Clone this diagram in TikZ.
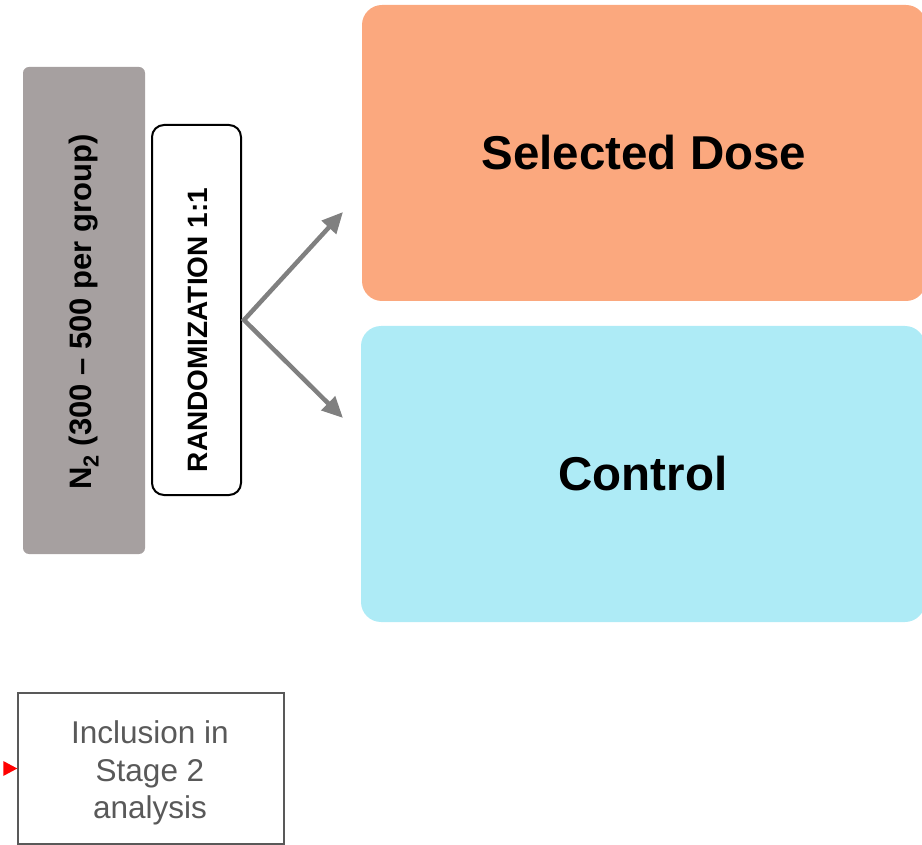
\documentclass[tikz,border=0pt]{standalone}
\usepackage{fontspec}
\setmainfont{Liberation Sans}
\usetikzlibrary{arrows.meta}

\definecolor{poolgrey}{RGB}{166,160,160}
\definecolor{dosefill}{RGB}{251,168,126}
\definecolor{ctrlfill}{RGB}{174,235,246}
\definecolor{armgrey}{RGB}{128,128,128}
\definecolor{textgrey}{RGB}{89,89,89}

\begin{document}
\begin{tikzpicture}[x=1pt, y=-1pt,
	arm/.style={rectangle, rounded corners=20pt, minimum width=564pt, minimum height=296pt,
		inner sep=0pt, font=\fontsize{47.5}{56}\selectfont\bfseries},
	branch/.style={draw=armgrey, line width=4.5pt,
		{Triangle[length=21pt,width=19pt]}-{Triangle[length=21pt,width=19pt]}}]
	% The page
	\useasboundingbox (0, 0) rectangle (922, 845);
	% Stage 2 sample size
	\node (pool) at (84, 310.5) [rectangle, rounded corners=6pt, fill=poolgrey,
		minimum width=122pt, minimum height=487pt, inner sep=0pt] {};
	\node (poolText) at (84, 312) [rotate=90, font=\fontsize{31}{36}\selectfont\bfseries]
		{N\textsubscript{2} (300 – 500 per group)};
	% The randomization step
	\node (rand) at (196.5, 310) [rectangle, rounded corners=12pt, draw=black, fill=white, line width=2pt,
		minimum width=89pt, minimum height=370pt, inner sep=0pt] {};
	\node (randText) at (198, 330) [rotate=90, font=\fontsize{28}{32}\selectfont\bfseries]
		{RANDOMIZATION 1:1};
	% The two arms
	\node (dose) at (644, 153) [arm, fill=dosefill] {Selected Dose};
	\node (ctrl) at (643, 474) [arm, fill=ctrlfill] {Control};
	% Arrows into the arms
	\coordinate (split) at (244, 320);
	\coordinate (doseIn) at (343, 212);
	\coordinate (ctrlIn) at (343, 418);
	\draw[branch] (doseIn) -- (split) -- (ctrlIn);
	% Inclusion in the analysis
	\node (incl) at (151, 768.5) [rectangle, draw=textgrey, line width=1.5pt, minimum width=266pt,
		minimum height=151pt] {};
	\node (inclText) at (150, 773) [text=textgrey, align=center, font=\fontsize{31.5}{37.5}\selectfont]
		{Inclusion in\\Stage 2\\analysis};
	\fill[red] (incl.west) -- ++(-14, -7.5) -- ++(0, 15) -- cycle; % the incoming tip
\end{tikzpicture}
\end{document}
